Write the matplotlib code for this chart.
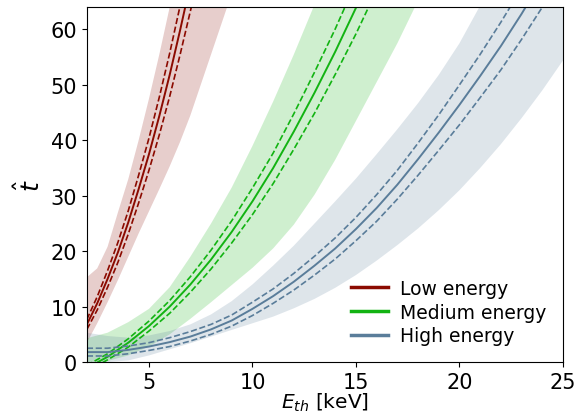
import matplotlib
matplotlib.use("Agg")
import matplotlib.pyplot as plt
from matplotlib.lines import Line2D

# values
# low energy
low_band_e = [2.0, 2.5, 3.0, 3.5, 4.0, 4.5, 5.0, 5.5, 6.0, 6.5, 7.0, 7.5, 8.0, 8.5, 9.0]
low_band_hi = [15.3, 16.9, 20.8, 27.0, 33.0, 40.0, 47.5, 55.5, 64.0, 73.0, 82.0, 91.5, 101, 111, 121]
low_band_lo = [3.5, 7.0, 10.8, 14.8, 19.0, 23.2, 27.2, 31.2, 35.3, 39.7, 44.5, 50.0, 55.5, 61.0, 66.5]
low_e = [2.0, 2.5, 3.0, 3.5, 4.0, 4.5, 5.0, 5.5, 6.0, 6.5, 7.0, 7.5]
low_t = [6.8, 10.6, 15.0, 19.8, 25.2, 31.2, 37.5, 44.4, 51.8, 59.8, 68.2, 77.0]
low_t_hi = [7.7, 11.8, 16.5, 21.6, 27.3, 33.7, 40.4, 47.8, 55.7, 64.2, 73.1, 82.5]
low_t_lo = [5.9, 9.4, 13.5, 18.0, 23.1, 28.7, 34.6, 41.0, 47.9, 55.4, 63.3, 71.5]

# medium energy
med_band_e = list(range(2, 19))
med_band_hi = [4.3, 5.3, 7.2, 9.6, 13.5, 19.0, 25.0, 31.5, 39.0, 47.0, 55.5, 64.5, 74.0, 84, 94, 105, 116]
med_band_lo = [0, 0.2, 1.2, 2.8, 5.0, 7.8, 10.8, 13.9, 17.0, 20.5, 24.8, 30.2, 36.5, 43.5, 50.5, 57.5, 65.2]
med_e = list(range(2, 17))
med_t = [-1.1, 0.95, 3.5, 6.5, 10.0, 14.0, 18.5, 23.5, 29.0, 35.0, 41.6, 48.6, 56.0, 63.9, 72.3]
med_t_hi = [-0.6, 1.5, 4.2, 7.4, 11.1, 15.4, 20.2, 25.5, 31.4, 37.7, 44.8, 52.3, 60.1, 68.5, 77.5]
med_t_lo = [-1.6, 0.4, 2.7, 5.6, 8.8, 12.6, 16.8, 21.5, 26.6, 32.2, 38.4, 44.9, 51.9, 59.2, 67.1]

# high energy
high_e = list(range(2, 26))
high_band_hi = [5.3, 4.7, 4.4, 4.8, 5.6, 6.8, 8.6, 11.0, 14.0, 17.4, 21.0, 25.0, 29.0, 33.1,
                37.5, 42.0, 46.7, 51.8, 57.5, 64.3, 71, 78, 85, 92]
high_band_lo = [0, 0, 0.3, 1.2, 2.3, 3.4, 4.6, 5.8, 7.0, 8.2, 9.7, 11.4, 13.4, 15.7,
                18.3, 21.1, 24.1, 27.4, 31.0, 35.0, 39.3, 44.0, 49.0, 54.4]
high_t = [1.8, 1.8, 2.2, 2.8, 3.6, 4.6, 5.9, 7.5, 9.6, 11.9, 14.5, 17.4, 20.5, 24.0,
          27.8, 32.0, 36.6, 41.4, 46.4, 51.6, 57.0, 62.8, 69.0, 75.5]
high_t_hi = [2.5, 2.5, 2.9, 3.5, 4.4, 5.5, 6.8, 8.5, 10.8, 13.2, 16.0, 19.1, 22.4, 26.1,
             30.2, 34.6, 39.5, 44.6, 50.0, 55.5, 61.3, 67.4, 74.0, 81.0]
high_t_lo = [1.1, 1.1, 1.5, 2.1, 2.8, 3.8, 5.0, 6.5, 8.4, 10.6, 13.0, 15.7, 18.6, 21.9,
             25.4, 29.4, 33.7, 38.2, 42.8, 47.7, 52.7, 58.2, 64.0, 70.0]

labels = ["Low energy", "Medium energy", "High energy"]
colors = ["#8b0a00", "#12b312", "#5a7d9a"]

fig = plt.figure(figsize=(5.87, 4.14), dpi=100)
ax = fig.add_axes([0.148, 0.123, 0.811, 0.857])

groups = [
    (low_band_e, low_band_lo, low_band_hi, low_e, low_t, low_t_lo, low_t_hi),
    (med_band_e, med_band_lo, med_band_hi, med_e, med_t, med_t_lo, med_t_hi),
    (high_e, high_band_lo, high_band_hi, high_e, high_t, high_t_lo, high_t_hi),
]

for (be, blo, bhi, e, t, tlo, thi), c in zip(groups, colors):
    ax.fill_between(be, blo, bhi, color=c, alpha=0.2, linewidth=0)
    ax.plot(e, t, color=c, lw=1.4)
    ax.plot(e, thi, color=c, lw=1.2, ls="--")
    ax.plot(e, tlo, color=c, lw=1.2, ls="--")

ax.set_xlim(2, 25)
ax.set_ylim(0, 64)
ax.set_xticks([5, 10, 15, 20, 25])
ax.set_yticks([0, 10, 20, 30, 40, 50, 60])
ax.tick_params(labelsize=15)
ax.set_xlabel(r"$E_{th}$ [keV]", fontsize=14.5, labelpad=-0.5)
ax.set_ylabel(r"$\hat{t}$", fontsize=18)

handles = [Line2D([], [], color=c, lw=2.5) for c in colors]
ax.legend(handles, labels, loc="lower right", frameon=False, fontsize=13.5,
          handlelength=2.0, handletextpad=0.6, borderaxespad=0.5, labelspacing=0.25)

fig.savefig("out.png", dpi=100)
